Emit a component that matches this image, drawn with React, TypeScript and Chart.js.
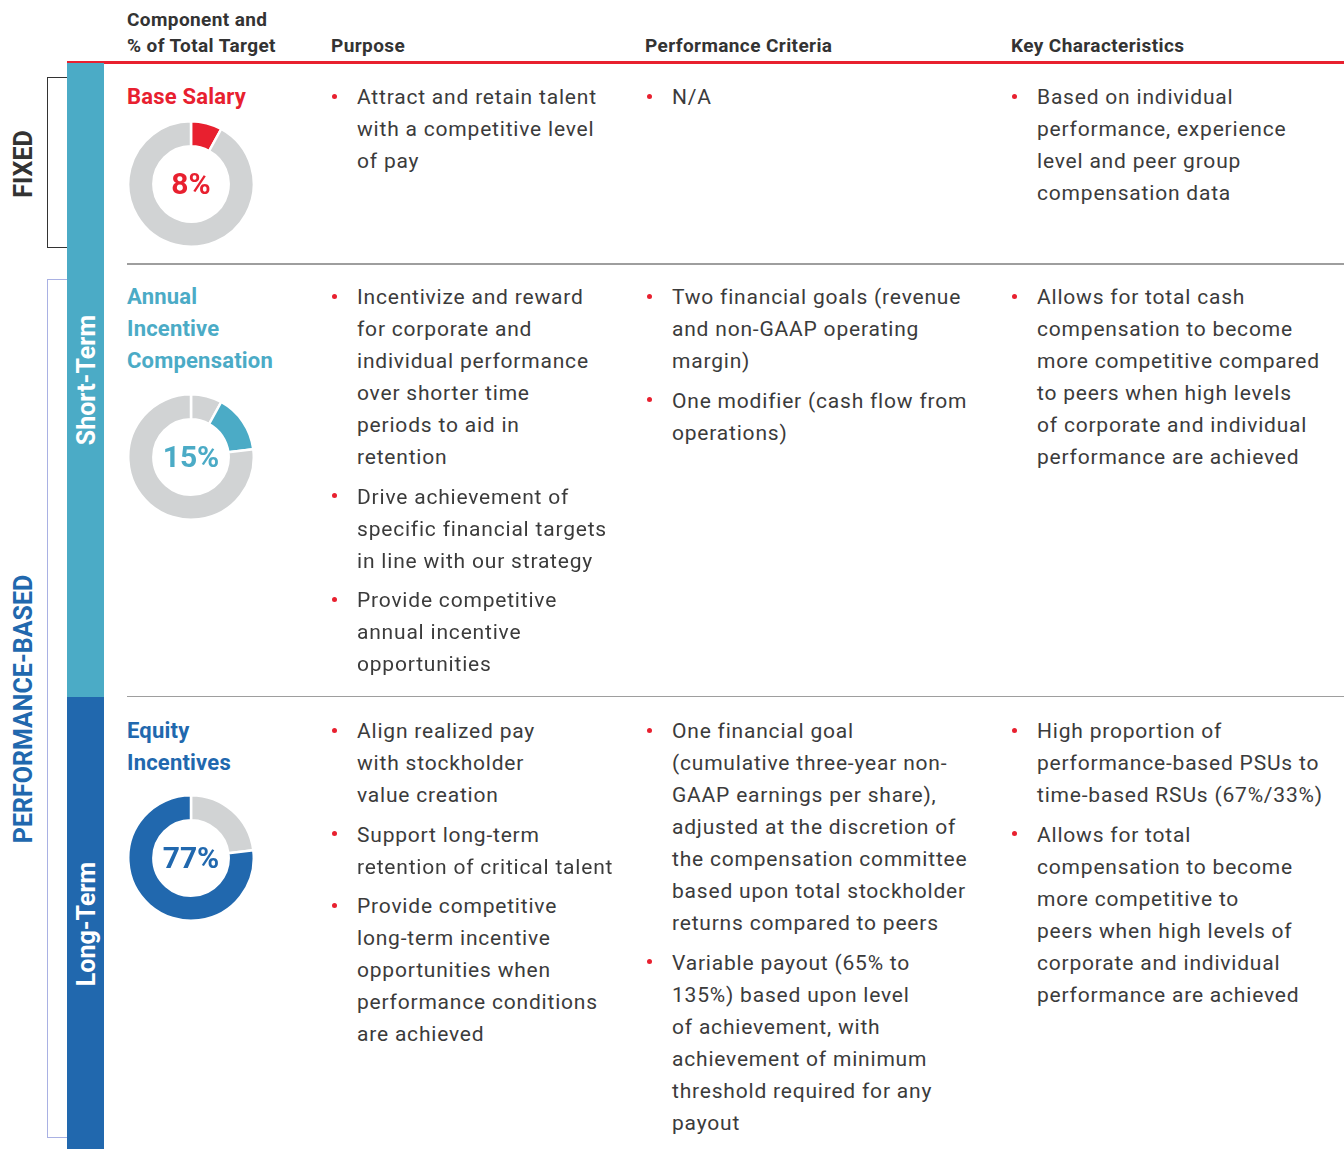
import React, { useEffect, useRef } from "react";
import { Chart, registerables } from "chart.js";

Chart.register(...registerables);

// ---------- data ----------
const headerComponent = ["Component and", "% of Total Target"];
const headerPurpose = "Purpose";
const headerCriteria = "Performance Criteria";
const headerKey = "Key Characteristics";

const componentNames = [["Base Salary"], ["Annual", "Incentive", "Compensation"], ["Equity", "Incentives"]];
const targetPercents = [8, 15, 77];
const percentLabels = ["8%", "15%", "77%"];

const purposeBullets = [
  [["Attract and retain talent", "with a competitive level", "of pay"]],
  [
    ["Incentivize and reward", "for corporate and", "individual performance", "over shorter time", "periods to aid in", "retention"],
    ["Drive achievement of", "specific financial targets", "in line with our strategy"],
    ["Provide competitive", "annual incentive", "opportunities"],
  ],
  [
    ["Align realized pay", "with stockholder", "value creation"],
    ["Support long-term", "retention of critical talent"],
    ["Provide competitive", "long-term incentive", "opportunities when", "performance conditions", "are achieved"],
  ],
];

const criteriaBullets = [
  [["N/A"]],
  [
    ["Two financial goals (revenue", "and non-GAAP operating", "margin)"],
    ["One modifier (cash flow from", "operations)"],
  ],
  [
    ["One financial goal", "(cumulative three-year non-", "GAAP earnings per share),", "adjusted at the discretion of", "the compensation committee", "based upon total stockholder", "returns compared to peers"],
    ["Variable payout (65% to", "135%) based upon level", "of achievement, with", "achievement of minimum", "threshold required for any", "payout"],
  ],
];

const keyBullets = [
  [["Based on individual", "performance, experience", "level and peer group", "compensation data"]],
  [["Allows for total cash", "compensation to become", "more competitive compared", "to peers when high levels", "of corporate and individual", "performance are achieved"]],
  [
    ["High proportion of", "performance-based PSUs to", "time-based RSUs (67%/33%)"],
    ["Allows for total", "compensation to become", "more competitive to", "peers when high levels of", "corporate and individual", "performance are achieved"],
  ],
];

const groupLabels = ["FIXED", "PERFORMANCE-BASED"];
const termLabels = ["Short-Term", "Long-Term"];

// ---------- styles ----------
const RED = "#E8202F";
const TEAL = "#4BABC6";
const BLUE = "#2168AE";
const GREY = "#D1D3D4";
const TEXT = "#3B3B3B";
const FONT = "Roboto, 'DejaVu Sans', sans-serif";
const rowColors = [RED, TEAL, BLUE];
const rowTops = [81, 281, 715];
const donutCenters = [184, 457, 858];
const LH = 32;
const BULLET_GAP = 7.5;

function Bullets({ items, dotX, textX, top }: { items: string[][]; dotX: number; textX: number; top: number }) {
  let y = top;
  const out: any[] = [];
  items.forEach((lines, bi) => {
    out.push(
      <div
        key={"d" + bi}
        style={{
          position: "absolute",
          left: dotX - 2.5,
          top: y + 15.2 - 2.5,
          width: 5,
          height: 5,
          borderRadius: "50%",
          background: RED,
        }}
      />
    );
    lines.forEach((ln, li) => {
      out.push(
        <div
          key={"t" + bi + "-" + li}
          style={{
            position: "absolute",
            left: textX,
            top: y + li * LH,
            lineHeight: LH + "px",
            fontSize: 21,
            letterSpacing: "0.8px",
            color: TEXT,
            whiteSpace: "nowrap",
          }}
        >
          {ln}
        </div>
      );
    });
    y += lines.length * LH + BULLET_GAP;
  });
  return <>{out}</>;
}

function Vertical({ text, cx, cy, color, size }: { text: string; cx: number; cy: number; color: string; size: number }) {
  return (
    <div
      style={{
        position: "absolute",
        left: cx,
        top: cy,
        transform: "translate(-50%, -50%) rotate(-90deg)",
        whiteSpace: "nowrap",
        fontWeight: 700,
        fontSize: size,
        lineHeight: "1",
        color,
      }}
    >
      {text}
    </div>
  );
}

export default function App() {
  const r0 = useRef<HTMLCanvasElement>(null);
  const r1 = useRef<HTMLCanvasElement>(null);
  const r2 = useRef<HTMLCanvasElement>(null);
  const refs = [r0, r1, r2];

  useEffect(() => {
    document.body.style.margin = "0";
    const charts: Chart[] = [];
    let prior = 0;
    targetPercents.forEach((v, i) => {
      const vals = [prior, v, 100 - prior - v];
      const cols = [GREY, rowColors[i], GREY];
      const data: number[] = [];
      const bg: string[] = [];
      vals.forEach((x, k) => {
        if (x > 0) {
          data.push(x);
          bg.push(cols[k]);
        }
      });
      prior += v;
      const c = refs[i].current;
      if (!c) return;
      charts.push(
        new Chart(c, {
          type: "doughnut",
          data: { labels: data.map((_, k) => String(k)), datasets: [{ data, backgroundColor: bg, borderColor: "#fff", borderWidth: 2.5, hoverOffset: 0 }] },
          options: {
            animation: false,
            responsive: false,
            cutout: "60%",
            plugins: { legend: { display: false }, tooltip: { enabled: false } },
            layout: { padding: 0 },
            events: [],
          },
        })
      );
    });
    return () => charts.forEach((c) => c.destroy());
  }, []);

  const S = 128;
  const headStyle = { position: "absolute" as const, fontSize: 19, fontWeight: 700, letterSpacing: "0.4px", lineHeight: "26px", color: "#333", whiteSpace: "nowrap" as const };

  return (
    <div style={{ position: "relative", width: 1344, height: 1149, overflow: "hidden", background: "#fff", fontFamily: FONT }}>
      {/* headers */}
      <div style={{ ...headStyle, left: 127, top: 7.2 }}>
        {headerComponent[0]}
        <br />
        {headerComponent[1]}
      </div>
      {[
        [331, headerPurpose],
        [645, headerCriteria],
        [1011, headerKey],
      ].map(([x, t]) => (
        <div key={String(t)} style={{ ...headStyle, left: x as number, top: 33.2 }}>
          {t}
        </div>
      ))}

      {/* red header rule */}
      <div style={{ position: "absolute", left: 67, top: 61, width: 1277, height: 2.5, background: RED }} />

      {/* side bars */}
      <div style={{ position: "absolute", left: 67, top: 63, width: 37, height: 634, background: TEAL }} />
      <div style={{ position: "absolute", left: 67, top: 697, width: 37, height: 452, background: BLUE }} />

      {/* brackets */}
      <div style={{ position: "absolute", left: 47, top: 77, width: 20, height: 171, boxSizing: "border-box", borderLeft: "1.5px solid #333", borderTop: "1.5px solid #333", borderBottom: "1.5px solid #333" }} />
      <div style={{ position: "absolute", left: 47, top: 279, width: 20, height: 859, boxSizing: "border-box", borderLeft: "1.5px solid #A9B1E3", borderTop: "1.5px solid #A9B1E3", borderBottom: "1.5px solid #A9B1E3" }} />

      <Vertical text={groupLabels[0]} cx={22.5} cy={163.5} color="#333" size={25} />
      <Vertical text={groupLabels[1]} cx={22.5} cy={708.5} color={BLUE} size={25} />
      <Vertical text={termLabels[0]} cx={86} cy={379.5} color="#fff" size={25} />
      <Vertical text={termLabels[1]} cx={86} cy={924} color="#fff" size={25} />

      {/* row separators */}
      <div style={{ position: "absolute", left: 127, top: 263, width: 1217, height: 1.5, background: "#9E9E9E" }} />
      <div style={{ position: "absolute", left: 127, top: 695.5, width: 1217, height: 1.5, background: "#9E9E9E" }} />

      {componentNames.map((lines, i) => (
        <div key={"cn" + i} style={{ position: "absolute", left: 127, top: rowTops[i], fontSize: 22, fontWeight: 700, letterSpacing: "0.2px", lineHeight: LH + "px", color: rowColors[i], whiteSpace: "nowrap" }}>
          {lines.map((l, k) => (
            <div key={k}>{l}</div>
          ))}
        </div>
      ))}

      {refs.map((r, i) => (
        <canvas key={"cv" + i} ref={r} width={S} height={S} style={{ position: "absolute", left: 191 - S / 2, top: donutCenters[i] - S / 2, width: S, height: S }} />
      ))}
      {percentLabels.map((t, i) => (
        <div key={"pl" + i} style={{ position: "absolute", left: 191, top: donutCenters[i], transform: "translate(-50%, -50%)", fontSize: 30, fontWeight: 700, lineHeight: "1", color: rowColors[i], whiteSpace: "nowrap" }}>
          {t}
        </div>
      ))}

      {rowTops.map((t, i) => (
        <React.Fragment key={"rows" + i}>
          <Bullets items={purposeBullets[i]} dotX={334} textX={357} top={t} />
          <Bullets items={criteriaBullets[i]} dotX={649} textX={672} top={t} />
          <Bullets items={keyBullets[i]} dotX={1014} textX={1037} top={t} />
        </React.Fragment>
      ))}
    </div>
  );
}
